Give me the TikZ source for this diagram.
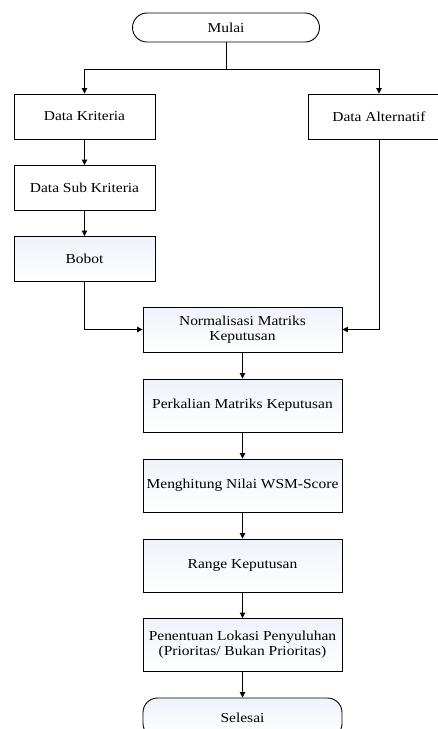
\documentclass[tikz,border=0pt]{standalone}
\usepackage{fontspec}
\setmainfont{Liberation Serif}[FakeStretch=1.13]
\usetikzlibrary{arrows.meta}
\definecolor{gradblue}{HTML}{E8EDF7}
\tikzset{
  box/.style={draw, line width=0.9pt, inner sep=0pt, minimum width=141pt, minimum height=45pt, align=center, font=\fontsize{13.7}{15}\selectfont},
  mainbox/.style={box, minimum width=199pt, minimum height=53pt},
  shaded/.style={top color=gradblue!70, bottom color=white, middle color=gradblue!35},
  term/.style={draw, line width=0.9pt, rounded corners=14.5pt, inner sep=0pt, align=center, font=\fontsize{13.7}{15}\selectfont},
  arr/.style={line width=0.9pt, -{Triangle[length=5.5pt,width=5.5pt]}},
  ln/.style={line width=0.9pt}
}
\begin{document}
\begin{tikzpicture}[x=1pt,y=-1pt]
\useasboundingbox (0,0) rectangle (438,729);
\clip (0,0) rectangle (438,729);
\fill[white] (0,0) rectangle (438,729);
\node[term, fill=white, minimum width=187pt, minimum height=29pt] (mulai) at (226,27.5) {Mulai};
\coordinate (split) at (226,69);
\node[box, fill=white] (dk) at (84.5,116.5) {Data Kriteria};
\node[box, fill=white] (da) at (379,116.5) {Data Alternatif};
\node[box, fill=white] (dsk) at (84.5,188) {Data Sub Kriteria};
\node[box, shaded] (bobot) at (84.5,259) {Bobot};
\node[mainbox, shaded, minimum height=45pt] (norm) at (242.5,329.5) {Normalisasi Matriks\\Keputusan};
\node[mainbox, shaded] (perk) at (242.5,405.5) {Perkalian Matriks Keputusan};
\node[mainbox, shaded] (meng) at (242.5,485.5) {Menghitung Nilai WSM-Score};
\node[mainbox, shaded] (range) at (242.5,565.5) {Range Keputusan};
\node[mainbox, shaded] (pen) at (242.5,645) {Penentuan Lokasi Penyuluhan\\(Prioritas/ Bukan Prioritas)};
\node[term, shaded, minimum width=199pt, minimum height=40pt, text depth=0pt] (selesai) at (242.5,718) {Selesai};
\draw[ln] (mulai) -- (split);
\draw[arr] (split) -| (dk.north);
\draw[arr] (split) -| (da.north);
\draw[arr] (dk) -- (dsk);
\draw[arr] (dsk) -- (bobot);
\draw[arr] (bobot.south) |- (norm.west);
\draw[arr] (da.south) |- (norm.east);
\draw[arr] (norm) -- (perk);
\draw[arr] (perk) -- (meng);
\draw[arr] (meng) -- (range);
\draw[arr] (range) -- (pen);
\draw[arr] (pen) -- (selesai);
\end{tikzpicture}
\end{document}
